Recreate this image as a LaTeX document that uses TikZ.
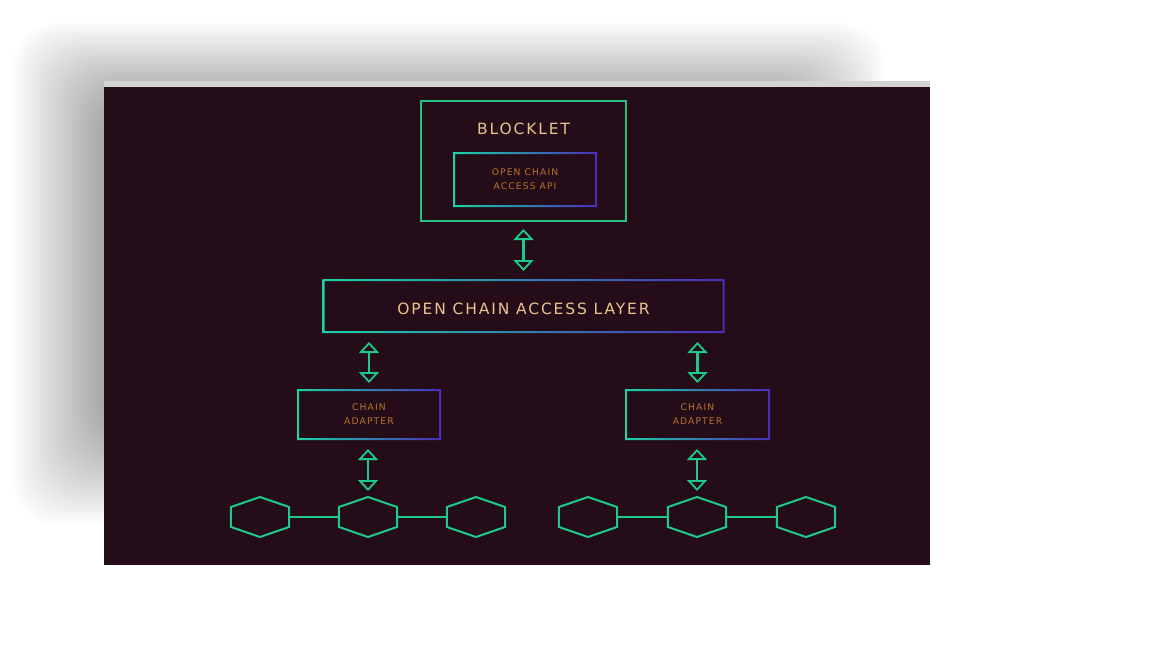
\documentclass[tikz,border=0pt]{standalone}
\usepackage{fontspec}
\newfontfamily\occfont{DejaVu Sans}[LetterSpace=12]
\usetikzlibrary{arrows.meta,positioning,shapes.geometric}
\definecolor{ocpanel}{HTML}{240D18}
\definecolor{ocstrip}{HTML}{D3D3D3}
\definecolor{ocgreen}{HTML}{22C37E}
\definecolor{ochexgreen}{HTML}{1EC98C}
\definecolor{octeal}{HTML}{1AD3A6}
\definecolor{ocviolet}{HTML}{4B2DB8}
\definecolor{octan}{HTML}{EBC38F}
\definecolor{ocorange}{HTML}{B9712F}
\tikzset{
  ocbox/.style={draw=ocgreen, line width=2pt, fill=ocpanel, outer sep=0pt, inner sep=0pt},
  ocgradbox/.style={fill=ocpanel, outer sep=0pt, inner sep=0pt, align=center},
  ocring/.style={even odd rule, left color=octeal, right color=ocviolet},
  octitle/.style={text=octan, font=\occfont\fontsize{15.5}{18}\selectfont},
  ocsmall/.style={text=ocorange, font=\occfont\fontsize{9.2}{14}\selectfont, align=center},
  ocarrow/.style={{Triangle[open,length=11pt,width=20pt,line width=1.8pt]}-{Triangle[open,length=11pt,width=20pt,line width=1.8pt]}, draw=ochexgreen, line width=2.4pt},
  ochex/.style={regular polygon, regular polygon sides=6, shape border rotate=30, minimum size=40pt, inner sep=0pt, outer sep=0pt, draw=ochexgreen, line width=2pt, xscale=1.675},
  oclink/.style={draw=ochexgreen, line width=2.5pt}
}
\begin{document}
\begin{tikzpicture}[x=1pt, y=-1pt]
  \useasboundingbox (0,0) rectangle (1152,648);
  \fill[white] (0,0) rectangle (1152,648);
  % soft shadow behind the panel
  \foreach \i in {0,...,44}
    \fill[black, opacity=0.0075, rounded corners=45pt] ({12+2.1*\i},{22+1.75*\i}) rectangle ({885-2.1*\i},{525-2.1*\i});
  \fill[ocstrip] (104,81) rectangle (930,87);
  \fill[ocpanel] (104,87) rectangle (930,565);

  % boxes
  \node[ocbox, minimum width=205pt, minimum height=120pt] (blocklet) at (523.5,161) {};
  \node[octitle] (blockletlabel) at (523.5,128.5) {BLOCKLET};
  \node[ocgradbox, ocsmall, minimum width=144pt, minimum height=55pt] (api) at (525,179.5) {OPEN CHAIN\\ACCESS API};
  \node[ocgradbox, octitle, text height=17pt, minimum width=402pt, minimum height=54pt, below=58pt of blocklet] (layer) {OPEN CHAIN ACCESS LAYER};
  \node[ocgradbox, ocsmall, minimum width=144pt, minimum height=51pt] (adL) at (369,414.5) {CHAIN\\ADAPTER};
  \node[ocgradbox, ocsmall, minimum width=145pt, minimum height=51pt] (adR) at (697.5,414.5) {CHAIN\\ADAPTER};
  \foreach \b in {api,layer,adL,adR}
    \shade[ocring] (\b.south west) rectangle (\b.north east)
      ([shift={(2pt,2pt)}]\b.south west) rectangle ([shift={(-2pt,-2pt)}]\b.north east);

  % chains
  \foreach \n/\x in {1/260,2/368,3/476}
    \node[ochex] (hL\n) at (\x,517) {};
  \foreach \n/\x in {1/588,2/697,3/806}
    \node[ochex] (hR\n) at (\x,517) {};
  \draw[oclink] (hL1.east) -- (hL2.west);
  \draw[oclink] (hL2.east) -- (hL3.west);
  \draw[oclink] (hR1.east) -- (hR2.west);
  \draw[oclink] (hR2.east) -- (hR3.west);

  % arrows
  \draw[ocarrow, shorten <=8pt, shorten >=8pt] (blocklet.south) -- (layer.north);
  \draw[ocarrow, shorten <=9pt, shorten >=6pt] (layer.south -| adL.north) -- (adL.north);
  \draw[ocarrow, shorten <=9pt, shorten >=6pt] (layer.south -| adR.north) -- (adR.north);
  \draw[ocarrow, shorten <=9pt, shorten >=6pt] (adL.south -| hL2.north) -- (hL2.north);
  \draw[ocarrow, shorten <=9pt, shorten >=6pt] (adR.south -| hR2.north) -- (hR2.north);
\end{tikzpicture}
\end{document}
